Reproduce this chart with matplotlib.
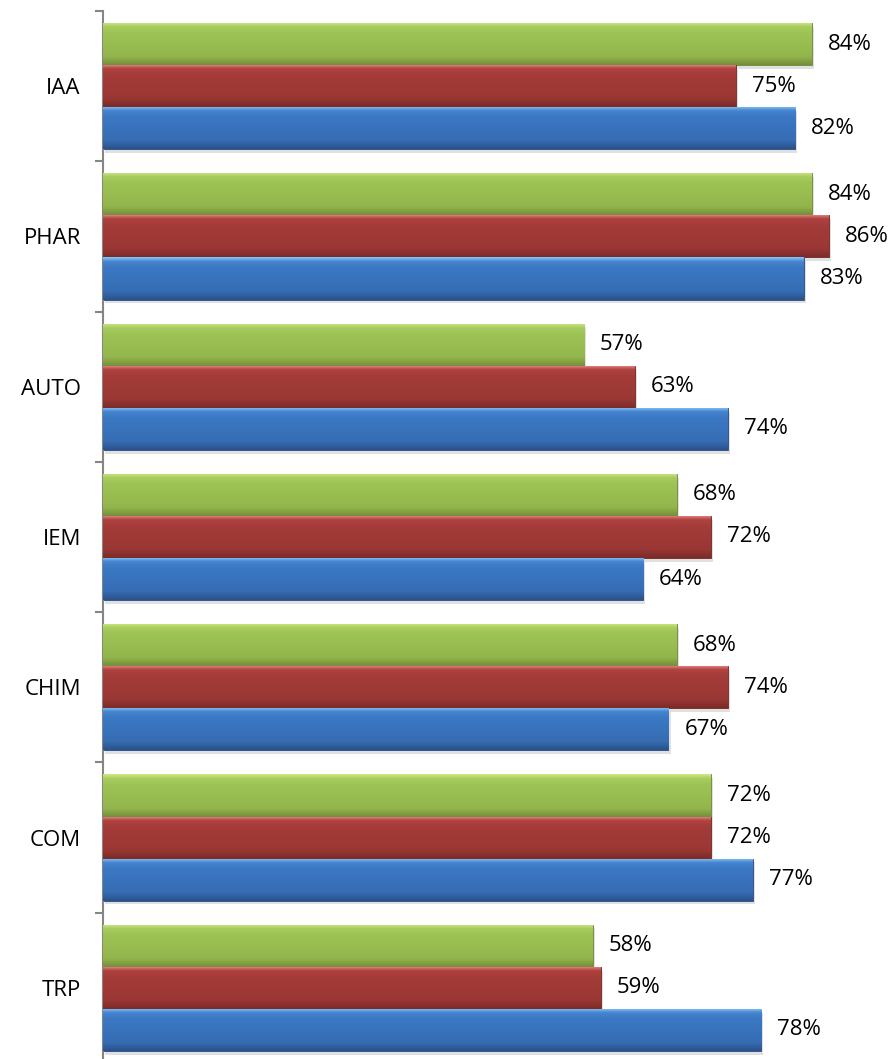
import numpy as np
import matplotlib
matplotlib.use("Agg")
import matplotlib.pyplot as plt
from matplotlib.colors import LinearSegmentedColormap

# Data, categories top to bottom
categories = ["IAA", "PHAR", "AUTO", "IEM", "CHIM", "COM", "TRP"]
green_vals = [84, 84, 57, 68, 68, 72, 58]
red_vals = [75, 86, 63, 72, 74, 72, 59]
blue_vals = [82, 83, 74, 64, 67, 77, 78]
series_names = ["Série 3", "Série 2", "Série 1"]

plt.rcParams['font.family'] = ['Open Sans', 'DejaVu Sans']

# gradient stops per series: top highlight -> base -> bottom shade
grad_colors = [
    ["#cde985", "#a8cc5e", "#9ec355", "#93b64c", "#758f3a"],
    ["#e98a88", "#ae423f", "#a43c39", "#9a3734", "#7c2b29"],
    ["#86c6f6", "#4684d0", "#3b78c4", "#366db4", "#2b528a"],
]
edge_colors = ["#6b8534", "#6e2624", "#274a7e"]

fig = plt.figure(figsize=(8.95, 10.59), dpi=100)
ax = fig.add_axes([103 / 895, (1059 - 1063) / 1059, 792 / 895, 1052 / 1059])

y = np.arange(len(categories))
h = 0.28
offsets = [-h, 0, h]
all_vals = [green_vals, red_vals, blue_vals]

for k, (vals, off) in enumerate(zip(all_vals, offsets)):
    cmap = LinearSegmentedColormap.from_list(
        "g%d" % k, list(zip([0, 0.1, 0.25, 0.8, 1.0], grad_colors[k])))
    grad = cmap(np.linspace(0, 1, 64))[:, None, :3]
    # soft shadow
    ax.barh(y + off + 0.025, vals, height=h, left=0.25, color="#000000",
            alpha=0.12, linewidth=0, zorder=1)
    bars = ax.barh(y + off, vals, height=h, color=grad_colors[k][2],
                   edgecolor=edge_colors[k], linewidth=0.6, zorder=2,
                   label=series_names[k])
    for b, v in zip(bars, vals):
        x0, yb = b.get_x(), b.get_y()
        im = ax.imshow(grad, extent=(x0, x0 + b.get_width(), yb + h, yb),
                       origin="upper", aspect="auto", zorder=3,
                       interpolation="bilinear")
        im.set_clip_path(b)
        ax.text(v + 1.9, yb + h / 2, "%d%%" % v, va="center", ha="left",
                fontsize=16, color="#000000", zorder=4)

ax.set_xlim(0, 792 / 8.44)
ax.set_ylim(len(categories) - 0.5, -0.5)

ax.set_yticks(y)
ax.set_yticklabels(categories, fontsize=16)
ax.tick_params(axis="y", which="major", length=0, pad=16)
ax.set_yticks(np.arange(-0.5, len(categories), 1), minor=True)
ax.tick_params(axis="y", which="minor", length=6, width=1.5, color="#868686")
ax.set_xticks([])

for s in ["top", "right", "bottom"]:
    ax.spines[s].set_visible(False)
ax.spines["left"].set_color("#868686")
ax.spines["left"].set_linewidth(1.5)

fig.savefig("out.png", dpi=100)
